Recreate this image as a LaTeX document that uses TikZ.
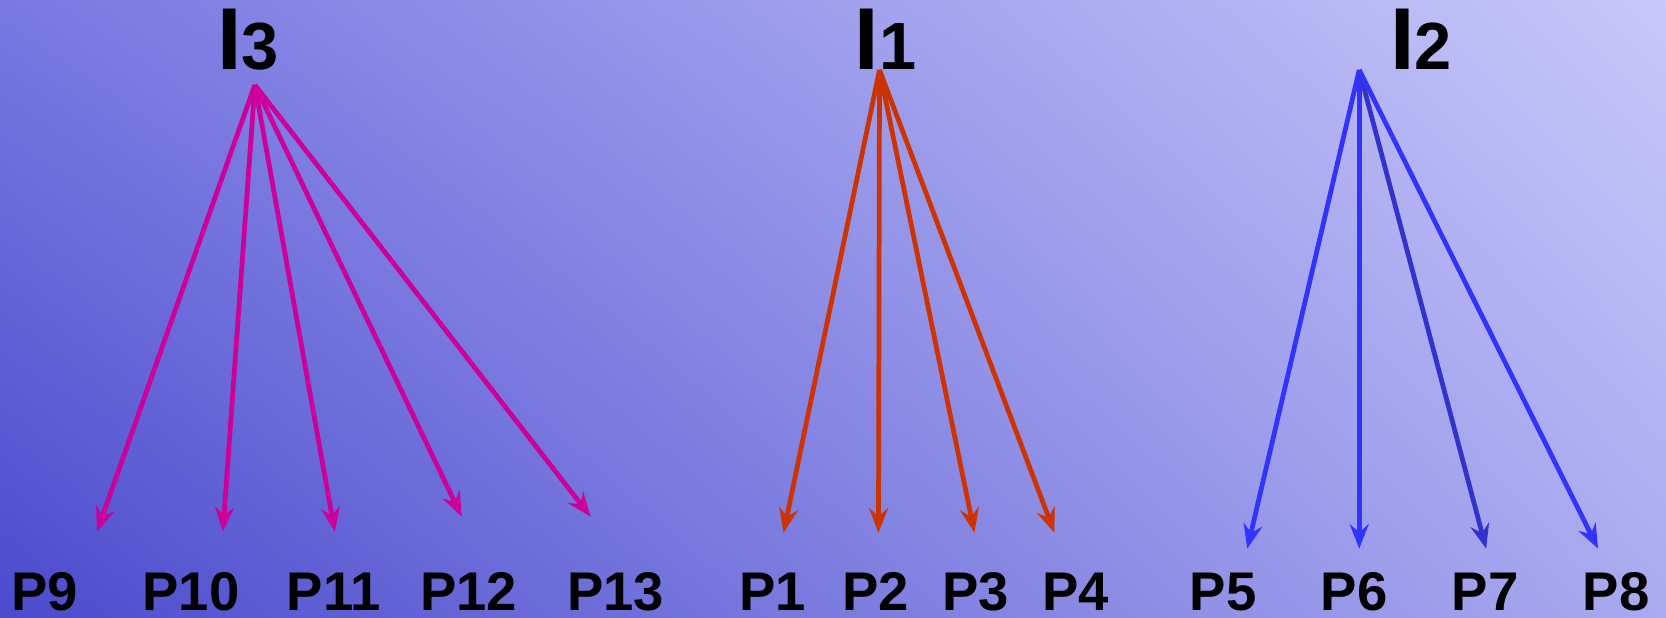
\documentclass[tikz,border=0pt]{standalone}
\usepackage{fontspec}
\setmainfont{Liberation Sans}
\usetikzlibrary{arrows.meta,shadings}
\definecolor{bgll}{HTML}{4B4BCD}
\definecolor{bgul}{HTML}{7878E1}
\definecolor{bgur}{HTML}{C8C8FA}
\definecolor{bglr}{HTML}{AAAAF0}
\definecolor{grpc}{HTML}{CC0099}
\definecolor{grpa}{HTML}{CC3300}
\definecolor{grpb}{HTML}{3333FF}
\definecolor{grpbdark}{HTML}{3333CC}

\begin{document}
\begin{tikzpicture}[x=0.01cm,y=-0.01cm,
  link/.style={line width=1.35pt,-{Stealth[length=7pt,width=5.4pt,inset=2.4pt]}},
  plabel/.style={font=\fontsize{15.5}{16}\selectfont\bfseries,anchor=base,inner sep=0pt},
  ilabel/.style={anchor=base,inner sep=0pt}]
  % background
  \shade[lower left=bgll,upper left=bgul,upper right=bgur,lower right=bglr]
    (0cm,0cm) rectangle (16.66cm,-6.17cm);
  \useasboundingbox (0,0) rectangle (1666,617);

  % sources
  \node[ilabel] (i3) at (248,70) {{\fontsize{25}{25}\selectfont\bfseries I}{\fontsize{19}{19}\selectfont\bfseries 3}};
  \node[ilabel] (i1) at (886,70) {{\fontsize{25}{25}\selectfont\bfseries I}{\fontsize{19}{19}\selectfont\bfseries 1}};
  \node[ilabel] (i2) at (1422,70) {{\fontsize{25}{25}\selectfont\bfseries I}{\fontsize{19}{19}\selectfont\bfseries 2}};
  \coordinate (s3) at (255,85);
  \coordinate (s1) at (880,70);
  \coordinate (s2) at (1360,70);

  % targets
  \foreach \nm/\cx in {9/45,10/191,11/334,12/469,13/616,1/773,2/876,3/976,4/1076,5/1224,6/1355,7/1486,8/1617}
    \node[plabel] (p\nm) at (\cx,611) {P\nm};

  % arrows of I3
  \foreach \nm/\tx/\ty in {9/97/532,10/223/532,11/335/532,12/462/517,13/591/517} {
    \coordinate (t\nm) at (\tx,\ty);
    \draw[link,grpc] (s3) -- (t\nm);
  }
  % arrows of I1
  \foreach \nm/\tx in {1/784,2/879,3/975,4/1055} {
    \coordinate (t\nm) at (\tx,533);
    \draw[link,grpa] (s1) -- (t\nm);
  }
  % arrows of I2
  \foreach \nm/\tx/\col in {5/1248/grpb,6/1360/grpb,7/1487/grpbdark,8/1599/grpb} {
    \coordinate (t\nm) at (\tx,549);
    \draw[link,\col] (s2) -- (t\nm);
  }
\end{tikzpicture}
\end{document}
